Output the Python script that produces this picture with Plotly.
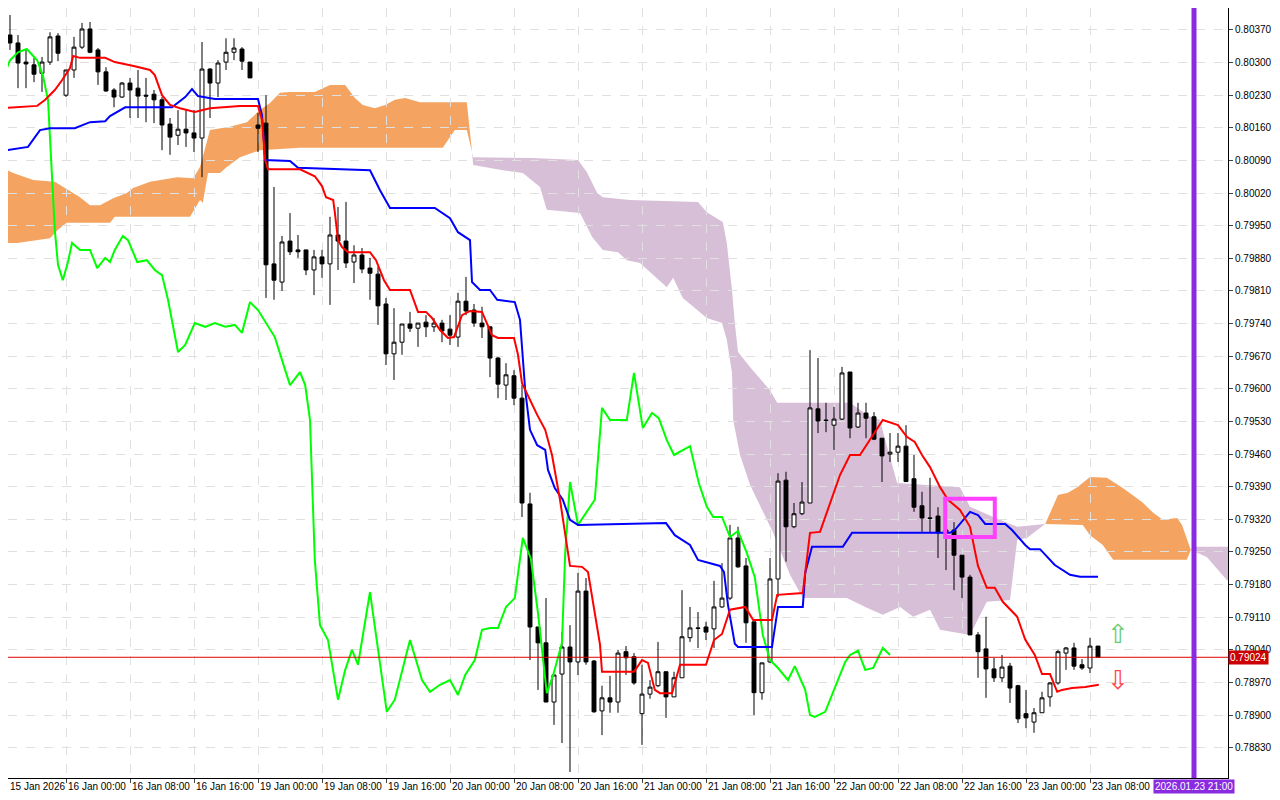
import plotly.graph_objects as go

# 小时K线 (15 Jan 16:00 起), 按序号排列
opens = [0.80237, 0.80359, 0.80342, 0.80301, 0.80295, 0.80277, 0.80301, 0.80357, 0.80230, 0.80284,
         0.80333, 0.80372, 0.80327, 0.80280, 0.80241, 0.80226, 0.80256, 0.80245, 0.80230, 0.80232,
         0.80220, 0.80168, 0.80144, 0.80157, 0.80149, 0.80138, 0.80286, 0.80256, 0.80301, 0.80322,
         0.80329, 0.80301, 0.80166, 0.80170, 0.79868, 0.79829, 0.79917, 0.79898, 0.79898, 0.79855,
         0.79883, 0.79868, 0.79930, 0.79917, 0.79872, 0.79887, 0.79859, 0.79846, 0.79782, 0.79675,
         0.79700, 0.79739, 0.79730, 0.79743, 0.79733, 0.79741, 0.79728, 0.79711, 0.79788, 0.79769,
         0.79741, 0.79733, 0.79666, 0.79608, 0.79628, 0.79580, 0.79353, 0.79089, 0.79055, 0.78928,
         0.78988, 0.79046, 0.79014, 0.79166, 0.79016, 0.78909, 0.78937, 0.78928, 0.79036, 0.79025,
         0.78903, 0.78945, 0.78963, 0.78993, 0.78939, 0.78980, 0.79066, 0.79087, 0.79089, 0.79085,
         0.79132, 0.79151, 0.79280, 0.79220, 0.79100, 0.78948, 0.79014, 0.79192, 0.79404, 0.79304,
         0.79332, 0.79355, 0.79557, 0.79533, 0.79522, 0.79535, 0.79636, 0.79518, 0.79548, 0.79540,
         0.79494, 0.79460, 0.79464, 0.79477, 0.79407, 0.79349, 0.79323, 0.79327, 0.79297, 0.79297,
         0.79243, 0.79196, 0.79072, 0.79042, 0.78999, 0.78980, 0.79005, 0.78963, 0.78903, 0.78885,
         0.78905, 0.78939, 0.78969, 0.79033, 0.79044, 0.79008, 0.79001, 0.79048]
highs = [0.80370, 0.80402, 0.80359, 0.80327, 0.80310, 0.80312, 0.80365, 0.80363, 0.80284, 0.80355,
         0.80385, 0.80387, 0.80331, 0.80290, 0.80245, 0.80258, 0.80267, 0.80284, 0.80267, 0.80241,
         0.80226, 0.80181, 0.80198, 0.80198, 0.80198, 0.80344, 0.80288, 0.80305, 0.80352, 0.80352,
         0.80333, 0.80301, 0.80192, 0.80230, 0.80033, 0.79928, 0.79977, 0.79930, 0.79898, 0.79898,
         0.79898, 0.79969, 0.79990, 0.80001, 0.79908, 0.79902, 0.79881, 0.79861, 0.79795, 0.79773,
         0.79739, 0.79765, 0.79741, 0.79758, 0.79752, 0.79748, 0.79758, 0.79806, 0.79840, 0.79782,
         0.79776, 0.79733, 0.79668, 0.79655, 0.79640, 0.79608, 0.79377, 0.79089, 0.79151, 0.78986,
         0.79078, 0.79093, 0.79205, 0.79194, 0.79018, 0.78963, 0.78984, 0.79040, 0.79048, 0.79033,
         0.79008, 0.78975, 0.79057, 0.78993, 0.78993, 0.79168, 0.79132, 0.79121, 0.79100, 0.79188,
         0.79226, 0.79308, 0.79304, 0.79237, 0.79100, 0.79012, 0.79237, 0.79419, 0.79422, 0.79355,
         0.79400, 0.79683, 0.79666, 0.79570, 0.79561, 0.79647, 0.79636, 0.79570, 0.79570, 0.79550,
         0.79494, 0.79505, 0.79505, 0.79522, 0.79458, 0.79379, 0.79409, 0.79346, 0.79301, 0.79314,
         0.79243, 0.79201, 0.79078, 0.79111, 0.79023, 0.79029, 0.79012, 0.78965, 0.78954, 0.78915,
         0.78950, 0.78971, 0.79040, 0.79046, 0.79055, 0.79020, 0.79066, 0.79048]
lows = [0.80230, 0.80327, 0.80245, 0.80245, 0.80258, 0.80237, 0.80295, 0.80303, 0.80226, 0.80267,
        0.80329, 0.80320, 0.80252, 0.80237, 0.80204, 0.80224, 0.80181, 0.80181, 0.80172, 0.80170,
        0.80112, 0.80102, 0.80123, 0.80119, 0.80108, 0.80054, 0.80181, 0.80226, 0.80284, 0.80305,
        0.80284, 0.80267, 0.80108, 0.79795, 0.79791, 0.79810, 0.79887, 0.79881, 0.79844, 0.79801,
        0.79838, 0.79780, 0.79855, 0.79859, 0.79827, 0.79848, 0.79791, 0.79737, 0.79651, 0.79619,
        0.79673, 0.79722, 0.79690, 0.79711, 0.79722, 0.79700, 0.79694, 0.79690, 0.79758, 0.79733,
        0.79709, 0.79625, 0.79580, 0.79576, 0.79565, 0.79325, 0.79018, 0.78954, 0.78928, 0.78879,
        0.78840, 0.78778, 0.78986, 0.79008, 0.78905, 0.78857, 0.78905, 0.78905, 0.78986, 0.78965,
        0.78836, 0.78935, 0.78960, 0.78894, 0.78939, 0.78980, 0.79057, 0.79044, 0.79061, 0.79044,
        0.79130, 0.79147, 0.79216, 0.79055, 0.78900, 0.78933, 0.79012, 0.79153, 0.79229, 0.79301,
        0.79329, 0.79355, 0.79505, 0.79507, 0.79469, 0.79533, 0.79494, 0.79516, 0.79494, 0.79490,
        0.79400, 0.79443, 0.79443, 0.79400, 0.79336, 0.79293, 0.79291, 0.79237, 0.79211, 0.79168,
        0.79151, 0.79072, 0.78980, 0.78937, 0.78971, 0.78971, 0.78926, 0.78883, 0.78872, 0.78862,
        0.78905, 0.78918, 0.78965, 0.78997, 0.78997, 0.78997, 0.78990, 0.79023]
closes = [0.80359, 0.80342, 0.80299, 0.80297, 0.80275, 0.80301, 0.80355, 0.80320, 0.80284, 0.80333,
          0.80372, 0.80322, 0.80280, 0.80239, 0.80226, 0.80256, 0.80241, 0.80228, 0.80228, 0.80220,
          0.80166, 0.80140, 0.80157, 0.80149, 0.80138, 0.80286, 0.80256, 0.80299, 0.80322, 0.80331,
          0.80303, 0.80267, 0.80159, 0.79866, 0.79833, 0.79915, 0.79894, 0.79894, 0.79855, 0.79883,
          0.79868, 0.79930, 0.79917, 0.79870, 0.79887, 0.79857, 0.79848, 0.79778, 0.79675, 0.79700,
          0.79739, 0.79730, 0.79741, 0.79733, 0.79741, 0.79724, 0.79715, 0.79788, 0.79767, 0.79741,
          0.79733, 0.79666, 0.79610, 0.79630, 0.79580, 0.79355, 0.79089, 0.79055, 0.78928, 0.78986,
          0.79046, 0.79014, 0.79166, 0.79014, 0.78907, 0.78937, 0.78928, 0.79033, 0.79023, 0.78969,
          0.78945, 0.78960, 0.78993, 0.78939, 0.78980, 0.79068, 0.79087, 0.79086, 0.79078, 0.79132,
          0.79151, 0.79280, 0.79218, 0.79098, 0.78948, 0.79012, 0.79192, 0.79402, 0.79304, 0.79332,
          0.79357, 0.79559, 0.79531, 0.79532, 0.79535, 0.79634, 0.79516, 0.79548, 0.79537, 0.79492,
          0.79456, 0.79464, 0.79477, 0.79401, 0.79346, 0.79323, 0.79322, 0.79291, 0.79291, 0.79243,
          0.79196, 0.79072, 0.79036, 0.78999, 0.78980, 0.79003, 0.78958, 0.78892, 0.78894, 0.78905,
          0.78937, 0.78969, 0.79036, 0.79044, 0.79005, 0.79001, 0.79048, 0.79024]
bars = list(range(len(closes)))

# Tenkan-sen (红)
tenkan_x = [-0.25, 1.25, 4.4, 5.4, 6.6, 7.5, 8.5, 8.9, 9.75, 12.9, 14.1, 16.6, 18.5, 19.1, 20, 21, 22.25,
            24.1, 26, 29.75, 32, 32.5, 32.9, 33.25, 37.25, 39.1, 40, 40.5, 41.4, 41.6, 42, 42.5, 43.25,
            46, 46.75, 47.75, 48.5, 51, 52, 53, 53.75, 54.75, 55.75, 56.5, 57.5, 58.5, 60, 61.25, 62,
            64, 64.5, 65, 66, 66.9, 67.9, 68.75, 69.75, 71, 72.5, 73.25, 74.75, 75, 79, 80, 80.75, 81.6,
            82.25, 83.75, 84.75, 88, 89, 90, 91, 92.9, 93.9, 96.25, 96.9, 100.1, 101, 102.25, 104.75,
            106, 107.25, 110.1, 112, 113.1, 114.1, 115, 116, 117.25, 118.25, 119.75, 121, 122, 123.1,
            124.1, 125.1, 126.9, 127.9, 129.1, 130, 131, 131.9, 132.5, 133.75, 135.4, 137.1]
tenkan_y = [0.80202, 0.80204, 0.80207, 0.80220, 0.80241, 0.80262, 0.80288, 0.80314, 0.80310, 0.80310,
            0.80301, 0.80292, 0.80284, 0.80273, 0.80230, 0.80209, 0.80202, 0.80194, 0.80202, 0.80207,
            0.80207, 0.80177, 0.80091, 0.80071, 0.80071, 0.80056, 0.80035, 0.80011, 0.80005, 0.79979,
            0.79919, 0.79904, 0.79893, 0.79893, 0.79876, 0.79833, 0.79812, 0.79812, 0.79765, 0.79765,
            0.79752, 0.79726, 0.79709, 0.79711, 0.79758, 0.79767, 0.79765, 0.79715, 0.79709, 0.79709,
            0.79673, 0.79612, 0.79576, 0.79544, 0.79512, 0.79458, 0.79362, 0.79220, 0.79218, 0.79207,
            0.79051, 0.78993, 0.78993, 0.79018, 0.79012, 0.78954, 0.78947, 0.78947, 0.79008, 0.79008,
            0.79061, 0.79074, 0.79126, 0.79132, 0.79104, 0.79104, 0.79158, 0.79162, 0.79291, 0.79293,
            0.79415, 0.79458, 0.79458, 0.79533, 0.79522, 0.79497, 0.79486, 0.79458, 0.79432, 0.79389,
            0.79362, 0.79340, 0.79304, 0.79220, 0.79173, 0.79173, 0.79143, 0.79111, 0.79062, 0.79029,
            0.78988, 0.78988, 0.78950, 0.78954, 0.78958, 0.78960, 0.78965]

# Kijun-sen (蓝)
kijun_x = [-0.25, 2.25, 3.25, 4.75, 6, 9.1, 11, 12.9, 13.5, 15.4, 21.25, 22.9, 23.75, 24.5, 26.6, 32,
           32.5, 32.9, 36, 37, 46, 47.25, 48.5, 54.1, 56, 57, 58.5, 58.75, 59.75, 61, 61.9, 64.1, 64.75,
           65.4, 66, 66.9, 67.9, 68.25, 69.1, 70.1, 71, 72, 83, 84.1, 86, 87, 89.75, 90.25, 90.75, 91.6,
           92, 96.25, 97, 100.1, 100.4, 101.25, 105.1, 106.25, 118.5, 119.1, 121, 122, 122.9, 125.4,
           126.25, 127.9, 128.5, 129.75, 131.6, 133.5, 134.75, 137]
kijun_y = [0.80110, 0.80117, 0.80119, 0.80155, 0.80159, 0.80159, 0.80172, 0.80174, 0.80185, 0.80204,
           0.80204, 0.80226, 0.80243, 0.80228, 0.80222, 0.80222, 0.80187, 0.80091, 0.80089, 0.80074,
           0.80069, 0.80026, 0.79988, 0.79988, 0.79966, 0.79936, 0.79919, 0.79829, 0.79812, 0.79812,
           0.79791, 0.79786, 0.79748, 0.79597, 0.79512, 0.79479, 0.79469, 0.79426, 0.79387, 0.79362,
           0.79319, 0.79308, 0.79312, 0.79286, 0.79265, 0.79233, 0.79220, 0.79207, 0.79136, 0.79053,
           0.79046, 0.79046, 0.79132, 0.79132, 0.79205, 0.79261, 0.79261, 0.79291, 0.79291, 0.79297,
           0.79336, 0.79329, 0.79310, 0.79310, 0.79297, 0.79265, 0.79256, 0.79256, 0.79222, 0.79201,
           0.79197, 0.79197]

# Chikou span (绿)
chikou_x = [0, 1, 2, 3.1, 4.4, 5.1, 5.75, 6.25, 6.6, 7, 7.6, 8.25, 8.75, 9.75, 11, 11.9, 12.9, 13.5,
            14.1, 15.1, 15.75, 16.9, 18.1, 19.1, 20, 20.75, 22, 22.9, 24.1, 25.4, 26.6, 27.9, 29.1, 30,
            31, 32, 32.9, 34.1, 35.4, 36, 37.25, 37.9, 38.5, 39.1, 39.75, 40.75, 42, 42.9, 43.75, 44.5,
            46, 47, 48.1, 49.1, 51, 52.5, 53.5, 54.75, 56, 57, 57.9, 59.1, 60, 61, 62, 63, 64.1, 65.1,
            66.1, 67, 68.1, 68.9, 70, 70.4, 71, 72, 74.1, 75, 76, 78.1, 79, 80.1, 81.25, 82.1, 83.1, 84,
            85.1, 86, 87.1, 88.1, 88.9, 90, 91, 92, 93.1, 94.1, 95.1, 96, 97, 98.25, 99.1, 100.4, 101,
            101.6, 102.9, 104.1, 105.4, 106, 107, 107.9, 108.9, 110.1, 111]
chikou_y = [0.80262, 0.80305, 0.80322, 0.80329, 0.80305, 0.80273, 0.80220, 0.80048, 0.79941, 0.79866,
            0.79833, 0.79872, 0.79913, 0.79898, 0.79898, 0.79859, 0.79881, 0.79872, 0.79898, 0.79928,
            0.79919, 0.79872, 0.79876, 0.79855, 0.79844, 0.79791, 0.79679, 0.79694, 0.79741, 0.79733,
            0.79741, 0.79733, 0.79737, 0.79720, 0.79786, 0.79769, 0.79743, 0.79711, 0.79640, 0.79608,
            0.79636, 0.79608, 0.79533, 0.79233, 0.79093, 0.79061, 0.78933, 0.78997, 0.79040, 0.79008,
            0.79164, 0.79040, 0.78907, 0.78933, 0.79061, 0.78975, 0.78950, 0.78965, 0.78975, 0.78943,
            0.78986, 0.79018, 0.79083, 0.79087, 0.79087, 0.79132, 0.79151, 0.79280, 0.79236, 0.79119,
            0.78947, 0.78986, 0.79055, 0.79248, 0.79400, 0.79308, 0.79362, 0.79559, 0.79533, 0.79533,
            0.79634, 0.79516, 0.79548, 0.79537, 0.79490, 0.79458, 0.79469, 0.79477, 0.79398, 0.79347,
            0.79325, 0.79325, 0.79282, 0.79295, 0.79248, 0.79196, 0.79072, 0.79018, 0.79001, 0.78975,
            0.79005, 0.78954, 0.78900, 0.78896, 0.78907, 0.78958, 0.79014, 0.79029, 0.79038, 0.78997,
            0.79001, 0.79044, 0.79029]

# 云带上沿/下沿
cloud1_top_x = [-0.25, 1.4, 3.9, 6.6, 9.75, 11, 12.25, 13.9, 15.6, 16.4, 18.5, 21.9, 23.9, 24.75, 26,
                28.5, 30.6, 32.25, 33.5, 34.75, 36, 39.1, 41, 42.9, 44.1, 45.1, 46.6, 47.9, 49.1, 50.4,
                52.25, 58.1, 58.75]
cloud1_top_y = [0.80076, 0.80063, 0.80048, 0.80044, 0.80011, 0.79994, 0.79994, 0.80009, 0.80020,
                0.80031, 0.80044, 0.80054, 0.80052, 0.80076, 0.80155, 0.80162, 0.80172, 0.80198,
                0.80213, 0.80235, 0.80237, 0.80237, 0.80252, 0.80252, 0.80224, 0.80209, 0.80202,
                0.80209, 0.80220, 0.80224, 0.80215, 0.80215, 0.80108]
cloud1_bot_x = [-0.25, 1.9, 6, 7, 8.1, 13.5, 14.1, 23.5, 24.75, 25.1, 25.75, 27.25, 28.1, 29.75, 32.25,
                37.25, 55.1, 56.6, 58.1, 58.75]
cloud1_bot_y = [0.79913, 0.79913, 0.79923, 0.79941, 0.79956, 0.79956, 0.79969, 0.79969, 0.80005,
                0.79999, 0.80063, 0.80063, 0.80076, 0.80097, 0.80112, 0.80117, 0.80117, 0.80155,
                0.80155, 0.80108]
cloud2_top_x = [58.75, 58.9, 66.25, 72, 73.1, 74.4, 75.1, 78.5, 87, 88.1, 90.1, 90.6, 91.25, 91.6, 92,
                93.5, 96, 96.9, 106, 108.5, 109.75, 110.4, 111.9, 119.75, 121, 123.9, 126.9, 130.4]
cloud2_top_y = [0.80108, 0.80097, 0.80095, 0.80091, 0.80065, 0.80020, 0.80011, 0.80005, 0.80001,
                0.79979, 0.79958, 0.79913, 0.79812, 0.79741, 0.79679, 0.79647, 0.79597, 0.79570,
                0.79570, 0.79540, 0.79533, 0.79490, 0.79398, 0.79389, 0.79347, 0.79325, 0.79304,
                0.79310]
cloud2_bot_x = [58.75, 58.9, 62.6, 65.1, 67.25, 68.1, 72.25, 73.75, 75.1, 77, 78.1, 79.75, 83.1, 83.9,
                85.1, 88.1, 90, 90.6, 91.25, 91.4, 92.25, 93.5, 94.4, 96.4, 98.5, 100.1, 105.6, 108.1,
                110.1, 112.25, 113.9, 116, 117.25, 121, 123.1, 126, 126.9, 128.1, 130.4]
cloud2_bot_y = [0.80108, 0.80080, 0.80069, 0.80063, 0.80033, 0.79984, 0.79977, 0.79926, 0.79898,
                0.79893, 0.79876, 0.79870, 0.79818, 0.79838, 0.79795, 0.79752, 0.79741, 0.79705,
                0.79634, 0.79533, 0.79458, 0.79394, 0.79362, 0.79291, 0.79201, 0.79151, 0.79151,
                0.79130, 0.79115, 0.79132, 0.79111, 0.79126, 0.79083, 0.79072, 0.79143, 0.79147,
                0.79276, 0.79280, 0.79310]
cloud3_top_x = [130.4, 132, 133.25, 134.4, 136, 138.1, 140.1, 142.5, 143.9, 145.1, 146.9, 147.5, 148.6]
cloud3_top_y = [0.79310, 0.79372, 0.79377, 0.79389, 0.79411, 0.79409, 0.79387, 0.79357, 0.79334,
                0.79319, 0.79323, 0.79308, 0.79254]
cloud3_bot_x = [130.4, 135.1, 136, 137.6, 138.9, 148.1, 148.6]
cloud3_bot_y = [0.79310, 0.79308, 0.79286, 0.79265, 0.79233, 0.79233, 0.79254]
cloud4_top_x = [148.6, 148.9, 153.5]
cloud4_top_y = [0.79254, 0.79261, 0.79261]
cloud4_bot_x = [148.6, 150.6, 153.1, 153.5]
cloud4_bot_y = [0.79254, 0.79239, 0.79190, 0.79186]

price_ticks = [0.80370, 0.80300, 0.80230, 0.80160, 0.80090, 0.80020, 0.79950, 0.79880, 0.79810,
               0.79740, 0.79670, 0.79600, 0.79530, 0.79460, 0.79390, 0.79320, 0.79250, 0.79180,
               0.79110, 0.79040, 0.78970, 0.78900, 0.78830]
time_ticks = list(range(0, 137, 8))
time_labels = ["15 Jan 2026", "16 Jan 00:00", "16 Jan 08:00", "16 Jan 16:00", "19 Jan 00:00",
               "19 Jan 08:00", "19 Jan 16:00", "20 Jan 00:00", "20 Jan 08:00", "20 Jan 16:00",
               "21 Jan 00:00", "21 Jan 08:00", "21 Jan 16:00", "22 Jan 00:00", "22 Jan 08:00",
               "22 Jan 16:00", "23 Jan 00:00", "23 Jan 08:00"]
last_price = 0.79024
future_bar = 149
future_label = "2026.01.23 21:00"

ORANGE = "#F4A460"
THISTLE = "#D8BFD8"
FONT = "Liberation Sans"
X_RANGE = [0.75, 153.25]

fig = go.Figure()

# 云带画在最底层
for tx, ty, bx, by, col in [
    (cloud1_top_x, cloud1_top_y, cloud1_bot_x, cloud1_bot_y, ORANGE),
    (cloud2_top_x, cloud2_top_y, cloud2_bot_x, cloud2_bot_y, THISTLE),
    (cloud3_top_x, cloud3_top_y, cloud3_bot_x, cloud3_bot_y, ORANGE),
    (cloud4_top_x, cloud4_top_y, cloud4_bot_x, cloud4_bot_y, THISTLE),
]:
    pts = list(zip(tx, ty)) + list(zip(bx[::-1], by[::-1]))
    path = "M " + " L ".join(f"{x},{y}" for x, y in pts) + " Z"
    fig.add_shape(type="path", path=path, fillcolor=col, line=dict(width=0), layer="below")

fig.add_trace(go.Candlestick(
    x=bars, open=opens, high=highs, low=lows, close=closes,
    increasing=dict(fillcolor="white", line=dict(color="black", width=1)),
    decreasing=dict(fillcolor="black", line=dict(color="black", width=1)),
    whiskerwidth=0, showlegend=False, hoverinfo="skip"))

fig.add_trace(go.Scatter(x=chikou_x, y=chikou_y, mode="lines",
                         line=dict(color="#00FF00", width=2), showlegend=False))
fig.add_trace(go.Scatter(x=kijun_x, y=kijun_y, mode="lines",
                         line=dict(color="#0000FF", width=2), showlegend=False))
fig.add_trace(go.Scatter(x=tenkan_x, y=tenkan_y, mode="lines",
                         line=dict(color="#FF0000", width=2), showlegend=False))

# 当前价格线, 未来时间线, 标记框
fig.add_hline(y=last_price, line=dict(color="#E00000", width=1))
fig.add_vline(x=future_bar, line=dict(color="#8A2BE2", width=5))
fig.add_shape(type="rect", x0=117.9, x1=124.1, y0=0.79282, y1=0.79364,
              line=dict(color="#FF40FF", width=4))

fig.add_annotation(x=1, xref="paper", y=last_price, xanchor="left", text=f"{last_price:.5f}",
                   showarrow=False, bgcolor="#CC0000", font=dict(color="white", size=10, family=FONT),
                   borderpad=1, xshift=0)
fig.add_annotation(x=future_bar, y=0, yref="paper", yanchor="top", text=future_label,
                   showarrow=False, bgcolor="#8A2BE2", font=dict(color="white", size=10, family=FONT),
                   borderpad=1, yshift=-1)
fig.add_annotation(x=139.5, y=0.79075, text="⇧", showarrow=False,
                   font=dict(color="#66CC66", size=26))
fig.add_annotation(x=139.5, y=0.78975, text="⇩", showarrow=False,
                   font=dict(color="#FF4444", size=26))

# 时间标签左对齐于刻度 (第一个标签落在可视区左端)
for t, lab in zip(time_ticks, time_labels):
    fig.add_annotation(x=max(t, X_RANGE[0]), y=0, yref="paper", yanchor="top", xanchor="left",
                       text=lab, showarrow=False, font=dict(size=10, color="black", family=FONT),
                       yshift=-1)

fig.update_layout(
    width=1272, height=792, margin=dict(l=0, r=52, t=0, b=22),
    paper_bgcolor="white", plot_bgcolor="white",
    font=dict(family=FONT, size=10, color="black"),
)
fig.update_xaxes(range=X_RANGE, tickvals=time_ticks, ticktext=[""] * len(time_ticks),
                 ticks="outside", ticklen=4, showgrid=True, gridcolor="#E0E0E0", griddash="dash",
                 showline=True, linecolor="black", mirror=True, zeroline=False,
                 rangeslider=dict(visible=False))
fig.update_yaxes(range=[0.78765, 0.80417], side="right", tickvals=price_ticks,
                 ticktext=[f"{v:.5f}" for v in price_ticks], ticks="outside", ticklen=4,
                 tickfont=dict(size=10, family=FONT),
                 showgrid=True, gridcolor="#E0E0E0", griddash="dash",
                 showline=True, linecolor="black", mirror=True, zeroline=False)

fig.write_html("out.html")
